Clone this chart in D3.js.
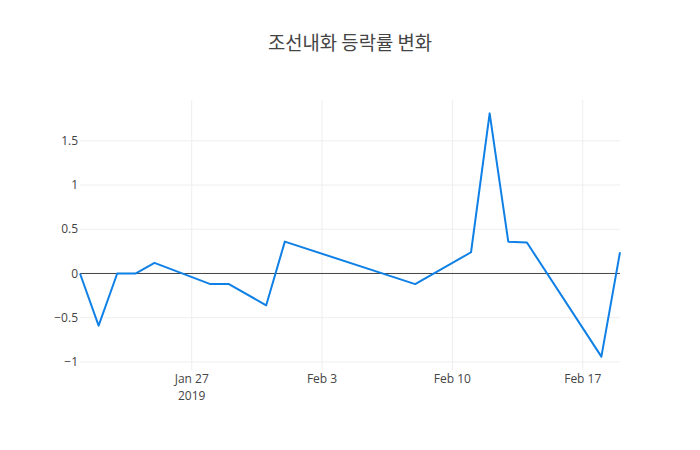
<!DOCTYPE html>
<html>
<head>
<meta charset="utf-8">
<script src="https://cdn.jsdelivr.net/npm/d3@7"></script>
<style>
  body { margin: 0; background: #fff; }
  text { font-family: "Open Sans", "Noto Sans CJK KR", sans-serif; }
</style>
</head>
<body>
<div id="chart"></div>
<script>
var w = 700;
var h = 450;
var margin = {top: 100, right: 80, bottom: 80, left: 80};

var dates = ["2019-01-21","2019-01-22","2019-01-23","2019-01-24","2019-01-25",
             "2019-01-28","2019-01-29","2019-01-31","2019-02-01","2019-02-08",
             "2019-02-11","2019-02-12","2019-02-13","2019-02-14","2019-02-18","2019-02-19"];
var changes = [0, -0.59, 0, 0, 0.12, -0.12, -0.12, -0.36, 0.36, -0.12,
               0.24, 1.81, 0.36, 0.35, -0.94, 0.24];
var yTicks = [-1, -0.5, 0, 0.5, 1, 1.5];
var xTicks = ["2019-01-27","2019-02-03","2019-02-10","2019-02-17"];
var title = "조선내화 등락률 변화";

var parse = d3.timeParse("%Y-%m-%d");
var dataset = dates.map(function(d, i) { return [parse(d), changes[i]]; });

var svg = d3.select("#chart").append("svg")
  .attr("width", w)
  .attr("height", h);

var x = d3.scaleTime()
  .domain(d3.extent(dataset, function(d) { return d[0]; }))
  .range([margin.left, w - margin.right]);

var ymin = d3.min(changes), ymax = d3.max(changes);
var pad = (ymax - ymin) * 0.055;
var y = d3.scaleLinear()
  .domain([ymin - pad, ymax + pad])
  .range([h - margin.bottom, margin.top]);

// grid
svg.append("g").selectAll("line.hg")
  .data(yTicks.filter(function(d) { return d !== 0; }))
  .enter().append("line")
  .attr("x1", margin.left).attr("x2", w - margin.right)
  .attr("y1", function(d) { return y(d); })
  .attr("y2", function(d) { return y(d); })
  .attr("stroke", "#eee").attr("stroke-width", 1);

svg.append("g").selectAll("line.vg")
  .data(xTicks)
  .enter().append("line")
  .attr("y1", margin.top).attr("y2", h - margin.bottom)
  .attr("x1", function(d) { return x(parse(d)); })
  .attr("x2", function(d) { return x(parse(d)); })
  .attr("stroke", "#eee").attr("stroke-width", 1);

// zero line
svg.append("line")
  .attr("x1", margin.left).attr("x2", w - margin.right)
  .attr("y1", y(0)).attr("y2", y(0))
  .attr("stroke", "#444").attr("stroke-width", 1);

// y tick labels
svg.append("g").selectAll("text")
  .data(yTicks)
  .enter().append("text")
  .attr("x", margin.left - 2)
  .attr("y", function(d) { return y(d); })
  .attr("dy", "0.35em")
  .attr("text-anchor", "end")
  .attr("font-size", 12)
  .attr("fill", "#444")
  .text(function(d) { return d < 0 ? "\u2212" + Math.abs(d) : d; });

// x tick labels
var fmt = d3.timeFormat("%b %-d");
svg.append("g").selectAll("text")
  .data(xTicks)
  .enter().append("text")
  .attr("x", function(d) { return x(parse(d)); })
  .attr("y", h - margin.bottom + 13)
  .attr("text-anchor", "middle")
  .attr("font-size", 12)
  .attr("fill", "#444")
  .text(function(d) { return fmt(parse(d)); });

svg.append("text")
  .attr("x", x(parse(xTicks[0])))
  .attr("y", h - margin.bottom + 30)
  .attr("text-anchor", "middle")
  .attr("font-size", 12)
  .attr("fill", "#444")
  .text("2019");

// line
var line = d3.line()
  .x(function(d) { return x(d[0]); })
  .y(function(d) { return y(d[1]); });

svg.append("path")
  .datum(dataset)
  .attr("d", line)
  .attr("fill", "none")
  .attr("stroke", "#0f80e6")
  .attr("stroke-width", 2)
  .attr("stroke-linejoin", "round");

// title
svg.append("text")
  .attr("x", w / 2)
  .attr("y", 50)
  .attr("text-anchor", "middle")
  .attr("font-size", 18.8)
  .attr("fill", "#444")
  .style("font-family", "'Noto Sans CJK KR', 'Open Sans', sans-serif")
  .text(title);
</script>
</body>
</html>
